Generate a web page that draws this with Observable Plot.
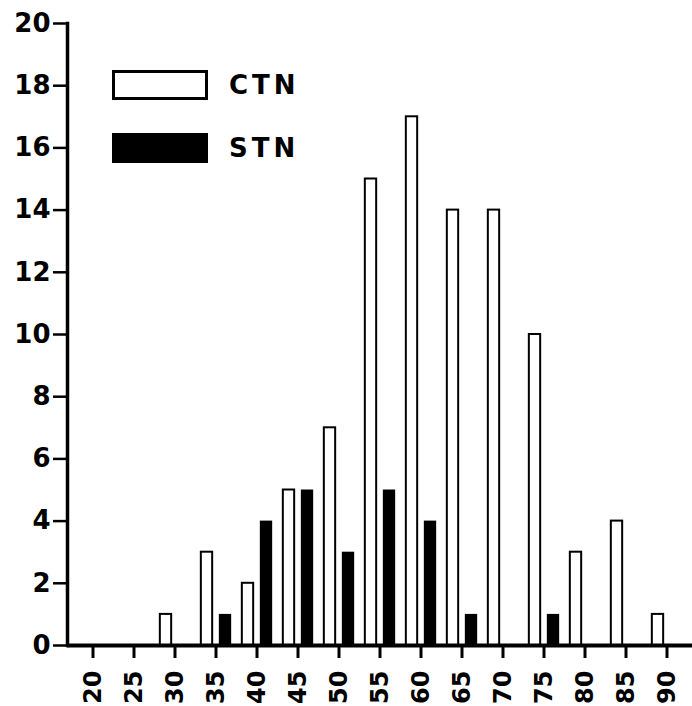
<!DOCTYPE html>
<html><head><meta charset="utf-8">
<script src="https://cdn.jsdelivr.net/npm/d3@7"></script>
<script src="https://cdn.jsdelivr.net/npm/@observablehq/plot@0.6"></script>
<style>
body{margin:0;background:#fff;}
#wrap{position:relative;width:692px;height:706px;}
.sw{position:absolute;left:112px;width:96px;height:30px;box-sizing:border-box;}
.lab{position:absolute;left:229px;font-family:"DejaVu Sans";font-weight:bold;font-size:26px;letter-spacing:4px;line-height:30px;color:#000;}
</style></head><body><div id="wrap"></div>
<script>
const bins = ["20","25","30","35","40","45","50","55","60","65","70","75","80","85","90"];
const ctn = [0,0,1,3,2,5,7,15,17,14,14,10,3,4,1];
const stn = [0,0,0,1,4,5,3,5,4,1,0,1,0,0,0];
const yTicks = [0,2,4,6,8,10,12,14,16,18,20];
const seriesNames = ["CTN","STN"];

const data = bins.map((b,i)=>({bin:b, ctn:ctn[i], stn:stn[i]}));
const bw = 625/15, c = bw/2;

const chart = Plot.plot({
  width:692, height:706, marginLeft:67, marginRight:0, marginTop:23, marginBottom:61,
  style:{fontFamily:"DejaVu Sans", fontWeight:"bold", color:"black", background:"white"},
  x:{domain:bins, padding:0, label:null},
  y:{domain:[0,20], label:null},
  marks:[
    Plot.barY(data.filter(d=>d.ctn>0), {x:"bin", y:"ctn", fill:"white", stroke:"black", strokeWidth:2, insetLeft:c-15, insetRight:c+3}),
    Plot.barY(data.filter(d=>d.stn>0), {x:"bin", y:"stn", fill:"black", insetLeft:c+3, insetRight:c-16}),
    Plot.axisY({ticks:yTicks, tickSize:14, tickPadding:3, fontSize:26, strokeWidth:2.5, label:null}),
    Plot.axisX({tickSize:13, tickPadding:12, tickRotate:-90, fontSize:24, strokeWidth:3, label:null}),
    Plot.ruleY([0], {strokeWidth:4}),
    Plot.frame({anchor:"left", strokeWidth:3.5})
  ]
});
const wrap = document.getElementById("wrap");
wrap.appendChild(chart);

const tops = [70,133];
seriesNames.forEach((n,i)=>{
  const sw = document.createElement("div");
  sw.className="sw";
  sw.style.top = tops[i]+"px";
  if(i===0){sw.style.background="#fff";sw.style.border="3px solid #000";}
  else{sw.style.background="#000";}
  wrap.appendChild(sw);
  const t = document.createElement("div");
  t.className="lab"; t.style.top=tops[i]+"px"; t.textContent=n;
  wrap.appendChild(t);
});
</script></body></html>
